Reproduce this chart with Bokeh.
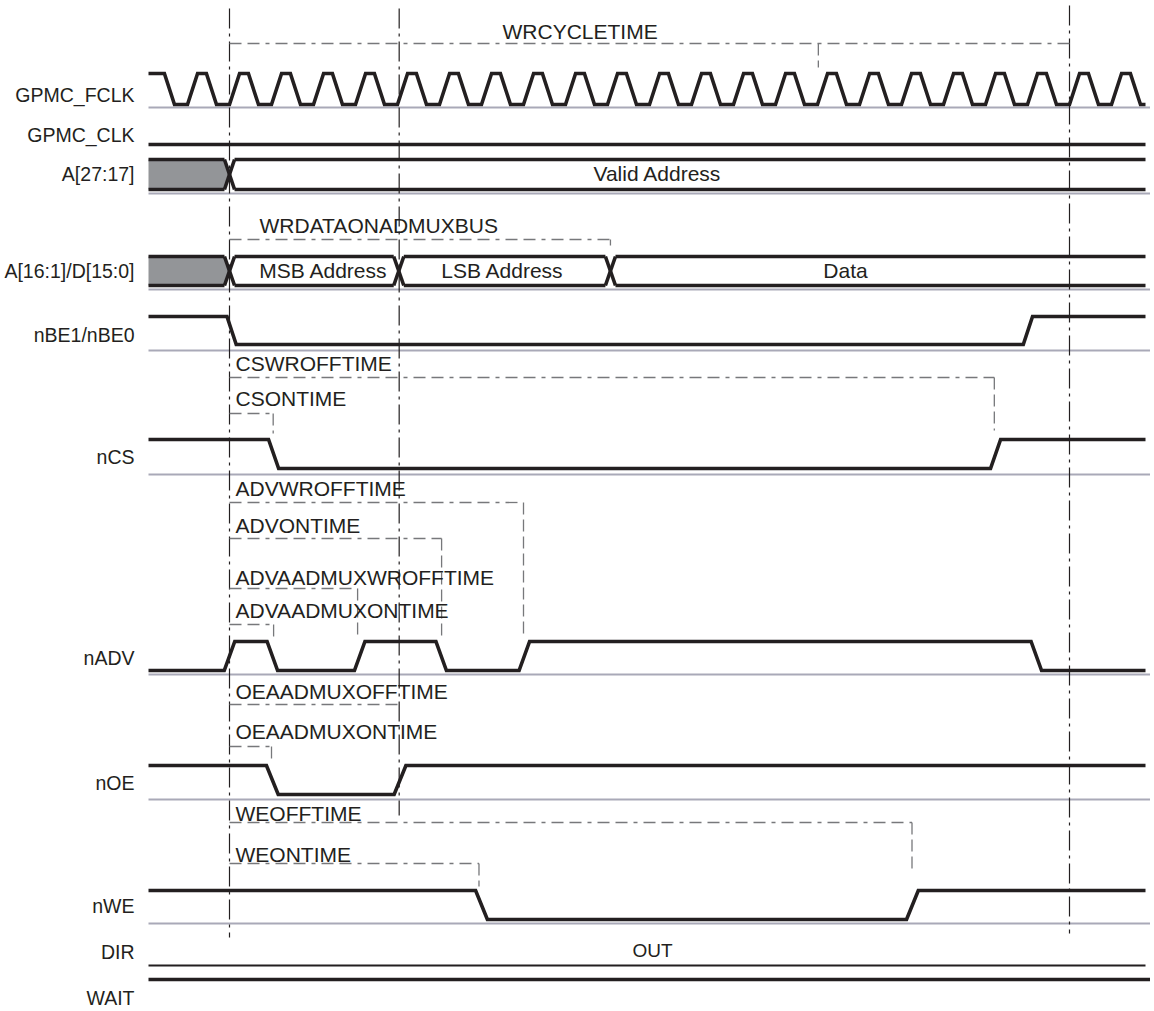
from bokeh.plotting import figure
from bokeh.models import Range1d
from bokeh.core.properties import value
from bokeh.embed import file_html
from bokeh.resources import INLINE

# ================= DATA (time in GPMC_FCLK cycles, 0 = start of the access) =================
row_labels = ["GPMC_FCLK", "GPMC_CLK", "A[27:17]", "A[16:1]/D[15:0]", "nBE1/nBE0",
              "nCS", "nADV", "nOE", "nWE", "DIR", "WAIT"]

fclk_rise = [-0.88, 0.12, 1.12, 2.12, 3.12, 4.12, 5.12, 6.12, 7.12, 8.12, 9.12, 10.12,
             11.12, 12.12, 13.12, 14.12, 15.12, 16.12, 17.12, 18.12, 19.12, 20.12, 21.12]
fclk_fall = [-1.43, -0.43, 0.57, 1.57, 2.57, 3.57, 4.57, 5.57, 6.57, 7.57, 8.57,
             9.57, 10.57, 11.57, 12.57, 13.57, 14.57, 15.57, 16.57, 17.57, 18.57,
             19.57, 20.57, 21.57]

a_hi_values = ["", "Valid Address"]
a_hi_edges = [0.0]
ad_values = ["", "MSB Address", "LSB Address", "Data"]
ad_edges = [0.0, 4.03, 9.07]

nbe_start, nbe_edges = 1, [0.05, 19.01]
ncs_start, ncs_edges = 1, [1.05, 18.24]
nadv_start, nadv_edges = 0, [0.0, 1.02, 3.1, 5.04, 7.02, 19.21]
noe_start, noe_edges = 1, [1.02, 4.06]
nwe_start, nwe_edges = 1, [6.0, 16.26]
dir_value = "OUT"

timing_names = ["WRCYCLETIME", "WRDATAONADMUXBUS", "CSWROFFTIME", "CSONTIME",
                "ADVWROFFTIME", "ADVONTIME", "ADVAADMUXWROFFTIME", "ADVAADMUXONTIME",
                "OEAADMUXOFFTIME", "OEAADMUXONTIME", "WEOFFTIME", "WEONTIME"]
timing_end = [20.0, 9.07, 18.21, 1.04, 7.0, 5.05, 3.05, 1.05, 4.03, 1.0, 16.25, 5.94]

cycle_markers = [0.0, 4.04, 20.0]
wrcycle_tick = 14.02

# ================= LAYOUT / STYLE =================
PX_PER_CYCLE = 42.0
X_ZERO = 229.0
OFF = 0
W, H = 1150, 1008


def t_of(px):
    return (px - X_ZERO) / PX_PER_CYCLE


T_LEFT, T_RIGHT, T_GRAY_END = t_of(148), t_of(1145), t_of(1150)

# row: (high_y, low_y, baseline_y, label_y)
rows = {
    "GPMC_FCLK": (73, 104, 107, 94),
    "GPMC_CLK": (144, None, None, 134),
    "A[27:17]": (159, 189, 193, 173),
    "A[16:1]/D[15:0]": (256, 285, 289, 270),
    "nBE1/nBE0": (316, 344, 350, 334),
    "nCS": (439, 468, 474, 456),
    "nADV": (641, 670, 674, 657),
    "nOE": (765, 794, 799, 782),
    "nWE": (890, 919, 923, 905),
    "DIR": (965, None, None, 951),
    "WAIT": (979, None, None, 997),
}
# annotation: (label_left_px, label_y, dash_y, vertical_end_y)
ann_layout = [
    (502, 31, 43, None),
    (259, 225, 239, 245),
    (235, 363, 377, 430),
    (235, 398, 413, 433),
    (235, 488, 502, 637),
    (235, 525, 538, 637),
    (235, 577, 588, 637),
    (235, 610, 624, 637),
    (235, 691, 704, None),
    (235, 731, 746, 760),
    (235, 813, 822, 872),
    (235, 854, 863, 886),
]
marker_extent = [(8, 937), (8, 815), (5, 933)]

FONT = value("Liberation Sans")
TXT = "#231f20"
SIG = "#231f20"
BASE = "#a9a9b8"
DASH_C = "#77787b"
LW = 3.6

p = figure(width=W, height=H, x_range=Range1d(t_of(OFF), t_of(OFF + W)),
           y_range=Range1d(OFF + H, OFF), output_backend="svg", toolbar_location=None,
           x_axis_type=None, y_axis_type=None, min_border=0, outline_line_color=None,
           background_fill_color="white", border_fill_color="white")

# ---- baselines ----
bx, by = [], []
for name in row_labels:
    hi, lo, base, ly = rows[name]
    if base is not None:
        bx.append([T_LEFT, T_GRAY_END]); by.append([base, base])
p.multi_line(xs=bx, ys=by, line_color=BASE, line_width=2)


def level_wave(start, edges, w, hi, lo):
    yv = lambda l: hi if l else lo
    xs, ys = [T_LEFT], [yv(start)]
    lvl = start
    for e in edges:
        xs += [e - w / 2, e + w / 2]
        ys += [yv(lvl), yv(1 - lvl)]
        lvl = 1 - lvl
    xs.append(T_RIGHT); ys.append(yv(lvl))
    return xs, ys


# ---- clock ----
clk_edges = sorted(fclk_rise + fclk_fall)
hi, lo, _, _ = rows["GPMC_FCLK"]
cx, cy = level_wave(1, clk_edges, 0.24, hi, lo)
p.line(cx, cy, line_color=SIG, line_width=LW, line_join="miter")

# ---- GPMC_CLK, DIR, WAIT (static) ----
p.line([T_LEFT, T_RIGHT], [rows["GPMC_CLK"][0]] * 2, line_color=SIG, line_width=LW)
p.line([T_LEFT, T_RIGHT], [rows["DIR"][0]] * 2, line_color=SIG, line_width=2)
p.line([T_LEFT, t_of(1150)], [rows["WAIT"][0]] * 2, line_color=SIG, line_width=LW)

# ---- level signals ----
for name, start, edges, w in [("nBE1/nBE0", nbe_start, nbe_edges, 0.22),
                              ("nCS", ncs_start, ncs_edges, 0.24),
                              ("nADV", nadv_start, nadv_edges, 0.25),
                              ("nOE", noe_start, noe_edges, 0.28),
                              ("nWE", nwe_start, nwe_edges, 0.28)]:
    hi, lo, _, _ = rows[name]
    xs, ys = level_wave(start, edges, w, hi, lo)
    p.line(xs, ys, line_color=SIG, line_width=LW, line_join="miter")


# ---- buses ----
def bus(edges, top, bot, h=0.12):
    mid = (top + bot) / 2
    bounds = [T_LEFT] + edges + [T_RIGHT]
    lx, ly = [], []
    for i in range(len(bounds) - 1):
        a, b = bounds[i], bounds[i + 1]
        a2 = a + h if i > 0 else a
        b2 = b - h if i < len(bounds) - 2 else b
        lx += [[a2, b2], [a2, b2]]
        ly += [[top, top], [bot, bot]]
    for e in edges:
        lx += [[e - h, e + h], [e - h, e + h]]
        ly += [[top, bot], [bot, top]]
    e = edges[0]
    p.patch([T_LEFT, e - h, e, e - h, T_LEFT], [top, top, mid, bot, bot],
            fill_color="#939598", line_color=None)
    p.multi_line(xs=lx, ys=ly, line_color=SIG, line_width=LW)


hi, lo, _, _ = rows["A[27:17]"]
bus(a_hi_edges, hi, lo)
hi, lo, _, _ = rows["A[16:1]/D[15:0]"]
bus(ad_edges, hi, lo)

# bus value texts (centre positions in px)
bus_text_pos = {"Valid Address": (657, 173), "MSB Address": (323, 270),
                "LSB Address": (502, 270), "Data": (845, 270)}
vals = [v for v in a_hi_values + ad_values if v]
p.text(x=[t_of(bus_text_pos[v][0]) for v in vals], y=[bus_text_pos[v][1] for v in vals],
       text=vals, text_font=FONT, text_font_size="21px", text_color=TXT,
       text_align="center", text_baseline="middle")
p.text(x=[t_of(652)], y=[950], text=[dir_value], text_font=FONT, text_font_size="19px",
       text_color=TXT, text_align="center", text_baseline="middle")

# ---- row labels ----
p.text(x=[t_of(134)] * len(row_labels), y=[rows[n][3] for n in row_labels], text=row_labels,
       text_font=FONT, text_font_size="19.5px", text_color=TXT,
       text_align="right", text_baseline="middle")

# ---- main cycle markers (dash-dot) ----
mx = [[t, t] for t in cycle_markers]
my = [[a, b] for a, b in marker_extent]
p.multi_line(xs=mx, ys=my, line_color=SIG, line_width=1.2, line_dash="20 5 3 5")

# ---- timing annotations ----
hx, hy, vx, vy = [], [], [], []
for name, end, (lx_, ly_, dy, vend) in zip(timing_names, timing_end, ann_layout):
    hx.append([0.0, end]); hy.append([dy, dy])
    if vend is not None:
        vx.append([end, end]); vy.append([dy, vend])
vx.append([wrcycle_tick, wrcycle_tick]); vy.append([ann_layout[0][2], 67])
p.multi_line(xs=hx, ys=hy, line_color=DASH_C, line_width=1.3, line_dash="12 6 12 6 4 6")
p.multi_line(xs=vx, ys=vy, line_color=DASH_C, line_width=1.3, line_dash="12 5")
p.text(x=[t_of(a[0]) for a in ann_layout], y=[a[1] for a in ann_layout], text=timing_names,
       text_font=FONT, text_font_size="21px", text_color=TXT,
       text_align="left", text_baseline="middle")

open("out.html", "w").write(file_html(p, INLINE))
